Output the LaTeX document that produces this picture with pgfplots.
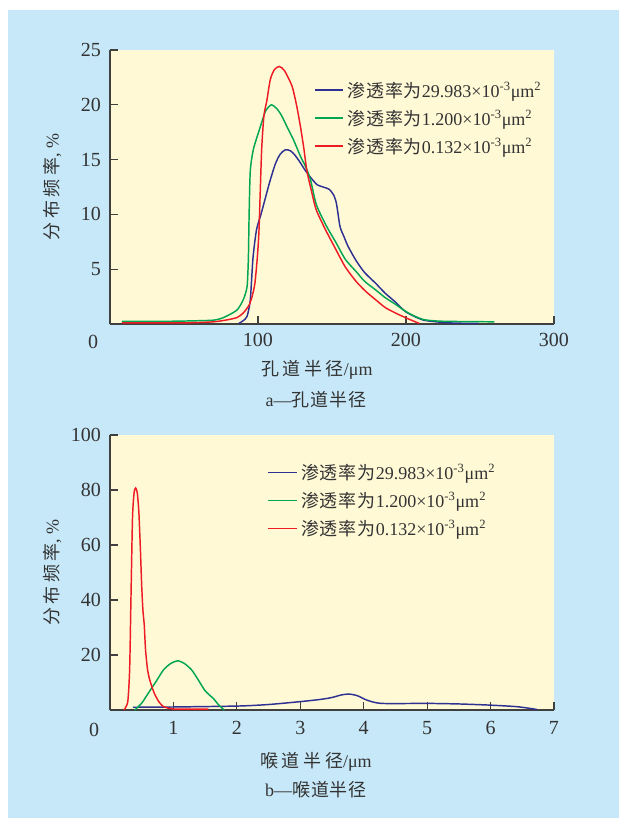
\documentclass[border=0pt]{standalone}
\usepackage{fontspec}
\setmainfont{Liberation Serif}
\newfontfamily\cjk[LetterSpace=5]{Noto Sans CJK SC}
\newfontfamily\cjkw[LetterSpace=20]{Noto Sans CJK SC}
\usepackage{pgfplots}
\pgfplotsset{compat=1.18}
\definecolor{bgblue}{RGB}{199,232,248}
\definecolor{bgyellow}{RGB}{255,249,214}
\definecolor{cblue}{RGB}{46,49,146}
\definecolor{cgreen}{RGB}{0,166,81}
\definecolor{cred}{RGB}{237,28,36}
\definecolor{txt}{RGB}{51,51,51}
\definecolor{axc}{RGB}{64,64,64}
\newcommand\lfont{\fontsize{13.5pt}{16pt}\selectfont}
\newcommand\lline[2]{\textcolor{#1}{\rule[4.6pt]{#2}{1.1pt}}\hspace{3pt}}
\pgfplotsset{
  mystyle/.style={
  scale only axis, width=333pt,
  axis x line=bottom, axis y line=left,
  axis line style={-, draw=axc, line width=0.9pt},
  axis background/.style={fill=bgyellow},
  tick align=inside, major tick length=6pt,
  tick style={draw=axc, line width=0.9pt},
  /pgf/number format/assume math mode=true,
  ticklabel style={font=\fontsize{15pt}{18pt}\selectfont, text=txt},
  yticklabel style={xshift=-3.25pt},
  legend cell align=left,
  legend image code/.code={},
  legend style={draw=none, fill=none, inner sep=0pt, row sep=8pt,
    font=\fontsize{13.5pt}{15pt}\selectfont, text=txt,
    nodes={inner sep=0pt, text height=10pt, text depth=3pt},
    /tikz/every odd column/.style={column sep=0pt},
    anchor=north west},
  every axis plot/.append style={line width=1.1pt, smooth, tension=0.4, forget plot},
}}
\begin{document}
\begin{tikzpicture}
\path[use as bounding box] (0,0) rectangle (464.25pt,-613.5pt);
\fill[white] (0,0) rectangle (464.25pt,-613.5pt);
\fill[bgblue] (6pt,-7.5pt) rectangle (464.25pt,-613.5pt);
% ---------- a ----------
\begin{axis}[mystyle, height=205.5pt, at={(82.5pt,-243pt)}, anchor=south west,
  xmin=0, xmax=300, ymin=0, ymax=25,
  xtick={100,200,300}, ytick={5,10,15,20,25},
  xticklabel style={yshift=-3.25pt},
  xlabel={{\cjkw 孔道半径}/μm}, ylabel={{\cjkw 分布频率}, \%},
  every axis x label/.style={at={(axis description cs:0.466,-0.168)}, anchor=center, font=\lfont, text=txt},
  every axis y label/.style={at={(axis description cs:-0.13,0.5)}, rotate=90, anchor=center, font=\lfont, text=txt},
  legend style={at={(rel axis cs:0.4617,0.878)}},
]
\addlegendimage{cblue}
\addlegendentry{\lline{cblue}{21pt}{\cjk 渗透率为}29.983×10\textsuperscript{-3}μm\textsuperscript{2}}
\addlegendimage{cgreen}
\addlegendentry{\lline{cgreen}{21pt}{\cjk 渗透率为}1.200×10\textsuperscript{-3}μm\textsuperscript{2}}
\addlegendimage{cred}
\addlegendentry{\lline{cred}{21pt}{\cjk 渗透率为}0.132×10\textsuperscript{-3}μm\textsuperscript{2}}
\addplot[cblue] coordinates {(87,0.05) (90,0.3) (92.6,0.7) (94.8,2.2) (96.6,6.0) (99,8.6) (102,10.0) (104.6,11.3) (108,13.0) (111.7,14.6) (115,15.5) (118.5,15.9) (122,15.8) (125,15.4) (128.7,14.7) (132,14.0) (136.6,13.2) (140,12.7) (144,12.5) (148,12.3) (151,11.8) (153,11.0) (155.4,8.9) (158,8.0) (160.8,7.1) (166.2,5.8) (172,4.7) (179.6,3.7) (186,2.8) (192.9,2.0) (200,1.1) (212,0.35) (230,0.1) (249,0.05)};
\addplot[cgreen] coordinates {(8,0.25) (40,0.25) (60,0.3) (70,0.35) (75,0.5) (80,0.8) (86,1.3) (90,2.2) (92.6,3.4) (93.5,6) (94,10) (94.8,14.0) (97,16) (101.6,18.0) (105,19.4) (109,20.0) (113,19.6) (116,19.0) (119.6,18.0) (124,16.8) (128.7,15.3) (132,14.4) (135.4,13.2) (139.4,10.9) (146,9.0) (152.8,7.4) (159,5.9) (166.2,4.8) (172,3.9) (179.6,3.1) (186,2.4) (192.9,1.8) (197,1.4) (203,0.9) (212,0.4) (225,0.25) (259.7,0.2)};
\addplot[cred] coordinates {(8,0.1) (50,0.1) (70,0.2) (80,0.4) (86,0.6) (90,1.0) (93.9,1.7) (96,2.5) (97.9,3.7) (99.5,6) (100.6,8.3) (101.5,12) (102.5,16) (104,19) (106,20.4) (108.3,22.3) (111,23.2) (114.4,23.5) (118,23.1) (123,21.7) (126,20.0) (128.7,18.0) (131,16.0) (133,14.0) (136,12.2) (139.4,10.4) (146,8.5) (152.8,6.75) (159,5.2) (166.2,3.9) (172.6,3.0) (179.6,2.2) (186,1.5) (192.9,1.0) (201,0.5) (209,0.05)};
\end{axis}
\node[font=\fontsize{15pt}{18pt}\selectfont, text=txt] at (69.75pt,-256.5pt) {0};
\node[font=\lfont, text=txt] at (237pt,-300pt) {a—{\cjk 孔道半径}};
% ---------- b ----------
\begin{axis}[mystyle, height=206.25pt, at={(82.5pt,-532.5pt)}, anchor=south west,
  xmin=0, xmax=7, ymin=0, ymax=100,
  xtick={1,2,3,4,5,6,7}, ytick={20,40,60,80,100},
  xticklabel style={yshift=-4.75pt},
  xlabel={{\cjkw 喉道半径}/μm}, ylabel={{\cjkw 分布频率}, \%},
  every axis x label/.style={at={(axis description cs:0.464,-0.189)}, anchor=center, font=\lfont, text=txt},
  every axis y label/.style={at={(axis description cs:-0.13,0.5)}, rotate=90, anchor=center, font=\lfont, text=txt},
]
\addplot[cblue] coordinates {(0.36,1.0) (1.0,1.1) (2.03,1.45) (2.5,2.0) (2.98,3.0) (3.3,3.8) (3.49,4.5) (3.65,5.5) (3.77,5.8) (3.9,5.2) (4.05,3.6) (4.28,2.4) (5.01,2.4) (5.5,2.2) (5.97,1.8) (6.42,1.2) (6.73,0.2)};
\addplot[cgreen] coordinates {(0.39,0) (0.5,2.5) (0.62,6.7) (0.73,10.5) (0.84,14.5) (0.95,16.8) (1.07,17.9) (1.18,16.8) (1.29,14.5) (1.39,11) (1.49,7.3) (1.56,5.6) (1.63,4.2) (1.7,2.2) (1.8,0)};
\addplot[cred] coordinates {(0.22,0) (0.28,3) (0.31,15) (0.33,40) (0.355,70) (0.38,79) (0.405,80.7) (0.43,79) (0.455,72) (0.48,58) (0.50,45) (0.52,36) (0.54,31) (0.56,22) (0.59,15) (0.62,11.5) (0.66,8.5) (0.70,6) (0.77,3) (0.84,1.3) (0.95,0.5) (1.07,0.3) (1.55,0.3)};
\node[anchor=north west, inner sep=0pt, align=left, yshift=2pt,
  font=\fontsize{13.5pt}{21pt}\selectfont, text=txt] at (rel axis cs:0.3547,0.886)
  {\lline{cblue}{22pt}{\cjk 渗透率为}29.983×10\textsuperscript{-3}μm\textsuperscript{2}\\
   \lline{cgreen}{22pt}{\cjk 渗透率为}1.200×10\textsuperscript{-3}μm\textsuperscript{2}\\
   \lline{cred}{22pt}{\cjk 渗透率为}0.132×10\textsuperscript{-3}μm\textsuperscript{2}};
\end{axis}
\node[font=\fontsize{15pt}{18pt}\selectfont, text=txt] at (70.5pt,-547.5pt) {0};
\node[font=\lfont, text=txt] at (237pt,-592.5pt) {b—{\cjk 喉道半径}};
\end{tikzpicture}
\end{document}
